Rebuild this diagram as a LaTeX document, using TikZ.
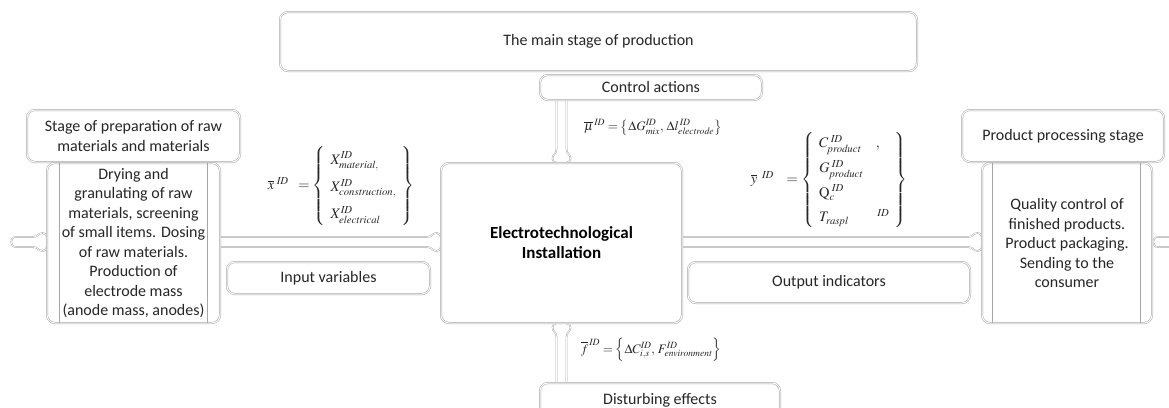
\documentclass[tikz,border=0pt]{standalone}
\usepackage{mathptmx}
\usepackage{fontspec}
\setmainfont{Carlito}
\usetikzlibrary{calc}
\pgfdeclarelayer{bg}
\pgfsetlayers{bg,main}
\tikzset{
 box/.style={draw=gray!70, line width=0.5pt, double=white, double distance=1pt,
   rounded corners=8pt, fill=white, align=center, text=black!85,
   font=\fontsize{16}{19.5}\selectfont, inner sep=2pt},
 blockarr/.style={draw=gray!65, line width=0.5pt, double=white, double distance=0.6pt, fill=white},
 formula/.style={font=\fontsize{13}{16}\selectfont, text=black!85, inner sep=0pt},
 bigformula/.style={font=\fontsize{14.5}{17}\selectfont, text=black!85, inner sep=0pt},
 vline/.style={draw=gray!70, line width=0.6pt}
}
\newcommand\myrarr[2]{\draw[blockarr] let \p1=(#1), \p2=(#2) in
 (\x1,\y1+5) -- (\x2-14,\y1+5) .. controls (\x2-8,\y1+5) and (\x2-9,\y1+9) .. (\x2-4,\y1+9)
 .. controls (\x2,\y1+9) and (\x2+1,\y1+3) .. (\x2,\y1)
 .. controls (\x2+1,\y1-3) and (\x2,\y1-9) .. (\x2-4,\y1-9)
 .. controls (\x2-9,\y1-9) and (\x2-8,\y1-5) .. (\x2-14,\y1-5) -- (\x1,\y1-5)
 .. controls (\x1-6.5,\y1-5) and (\x1-6.5,\y1+5) .. (\x1,\y1+5) -- cycle;}
\newcommand\mydarr[2]{\draw[blockarr] let \p1=(#1), \p2=(#2) in
 (\x1+5,\y1) -- (\x1+5,\y2+14) .. controls (\x1+5,\y2+8) and (\x1+9,\y2+9) .. (\x1+9,\y2+4)
 .. controls (\x1+9,\y2) and (\x1+3,\y2-1) .. (\x1,\y2)
 .. controls (\x1-3,\y2-1) and (\x1-9,\y2) .. (\x1-9,\y2+4)
 .. controls (\x1-9,\y2+9) and (\x1-5,\y2+8) .. (\x1-5,\y2+14) -- (\x1-5,\y1)
 .. controls (\x1-5,\y1+6) and (\x1+5,\y1+6) .. (\x1+5,\y1) -- cycle;}
\newcommand\myuarr[2]{\draw[blockarr] let \p1=(#1), \p2=(#2) in
 (\x1+5,\y1) -- (\x1+5,\y2-14) .. controls (\x1+5,\y2-8) and (\x1+9,\y2-9) .. (\x1+9,\y2-4)
 .. controls (\x1+9,\y2) and (\x1+3,\y2+1) .. (\x1,\y2)
 .. controls (\x1-3,\y2+1) and (\x1-9,\y2) .. (\x1-9,\y2-4)
 .. controls (\x1-9,\y2-9) and (\x1-5,\y2-8) .. (\x1-5,\y2-14) -- (\x1-5,\y1)
 .. controls (\x1-5,\y1-6) and (\x1+5,\y1-6) .. (\x1+5,\y1) -- cycle;}
\begin{document}
\begin{tikzpicture}[x=1pt,y=-1pt]
\clip (0,0) rectangle (1169,407);

% boxes
\node[box, minimum width=637pt, minimum height=59pt] (top) at (598.5,41.5) {The main stage of production};
\node[box, minimum width=222pt, minimum height=25pt] (ctrl) at (651,87.5) {Control actions};
\node[box, minimum width=241pt, minimum height=160pt, font=\fontsize{17}{20}\selectfont\bfseries, text=black] (main) at (561.5,243) {Electrotechnological\\Installation};
\node[box, minimum width=240pt, minimum height=34pt] (dist) at (660,400) {Disturbing effects};
\node[box, minimum width=213pt, minimum height=52pt] (lhead) at (133.5,136) {Stage of preparation of raw\\materials and materials};
\node[box, minimum width=173pt, minimum height=160pt] (lbody) at (133.5,243) {Drying and\\granulating of raw\\materials, screening\\of small items. Dosing\\of raw materials.\\Production of\\electrode mass\\(anode mass, anodes)};
\node[box, minimum width=202pt, minimum height=52pt] (rhead) at (1063,136) {Product processing stage};
\node[box, minimum width=170pt, minimum height=160pt] (rbody) at (1067,243) {Quality control of\\finished products.\\Product packaging.\\Sending to the\\consumer};
\node[box, minimum width=203pt, minimum height=32pt] (invar) at (328.5,278) {Input variables};
\node[box, minimum width=282pt, minimum height=41pt] (outind) at (829,282.5) {Output indicators};

% inner vertical lines of the body boxes
\draw[vline] ([xshift=13pt]lbody.north west) -- ([xshift=13pt]lbody.south west);
\draw[vline] ([xshift=-13pt]lbody.north east) -- ([xshift=-13pt]lbody.south east);
\draw[vline] ([xshift=11pt]rbody.north west) -- ([xshift=11pt]rbody.south west);
\draw[vline] ([xshift=-12pt]rbody.north east) -- ([xshift=-12pt]rbody.south east);

% free ends
\coordinate (lin) at (16,242);
\coordinate (rout) at (1158,242);
\coordinate (routend) at (1200,242);

% arrows
\begin{pgfonlayer}{bg}
\myrarr{lin}{lbody.west |- lin}
\myrarr{lbody.east |- lin}{main.west |- lin}
\myrarr{main.east |- lin}{rbody.west |- lin}
\myrarr{rout}{routend}
\mydarr{main.north |- ctrl.south}{main.north}
\myuarr{main.south |- dist.north}{main.south}
\end{pgfonlayer}

% formulas
\node[formula] (fmu) at (653,127) {$\overline{\mu}^{\,\mathit{ID}} = \left\{\Delta G^{\mathit{ID}}_{\mathit{mix}},\, \Delta l^{\,\mathit{ID}}_{\mathit{electrode}}\right\}$};
\node[formula] (ff) at (651,350) {$\overline{f}^{\,\mathit{ID}} = \left\{\Delta C^{\mathit{ID}}_{i,s},\, F^{\mathit{ID}}_{\mathit{environment}}\right\}$};
\node[bigformula] (fx) at (341,186) {$\overline{x}^{\;\mathit{ID}}\;\; = \left\{\renewcommand{\arraystretch}{1.6}\begin{array}{l}
 X^{\mathit{ID}}_{\mathit{material},}\\ X^{\mathit{ID}}_{\mathit{construction},}\\ X^{\mathit{ID}}_{\mathit{electrical}}\end{array}\right\}$};
\node[bigformula] (fy) at (829,180) {$\overline{y}^{\;\;\mathit{ID}}\;\;\; = \left\{\renewcommand{\arraystretch}{1.45}\begin{array}{l}
 C^{\;\mathit{ID}}_{\mathit{product}}\quad,\\ G^{\;\mathit{ID}}_{\mathit{product}}\\ \mathrm{Q}^{\;\mathit{ID}}_{c}\\ T_{\mathit{raspl}}\qquad{}^{\mathit{ID}}\end{array}\right\}$};
\end{tikzpicture}
\end{document}
